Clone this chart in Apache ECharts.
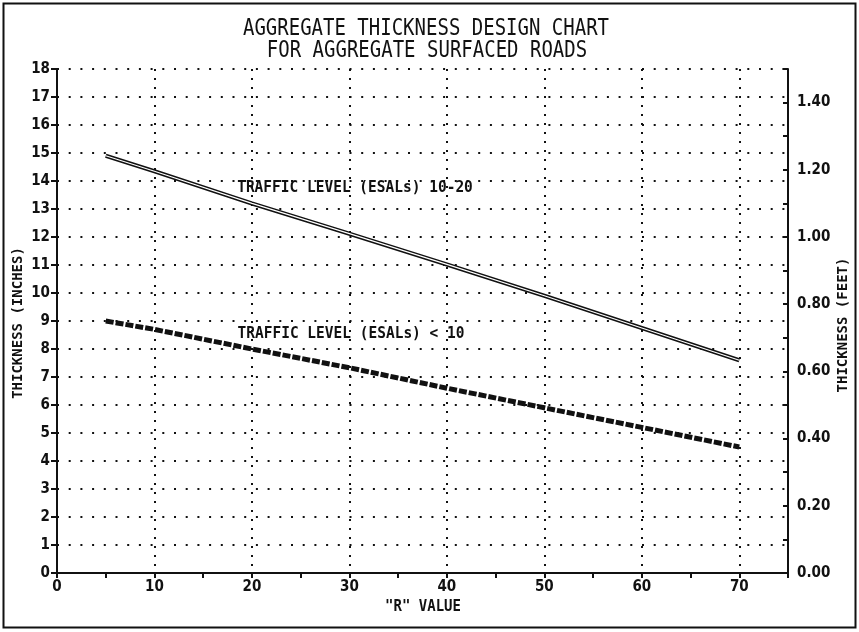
<!DOCTYPE html>
<html><head><meta charset="utf-8">
<script src="https://cdn.jsdelivr.net/npm/echarts@6/dist/echarts.min.js"></script>
<style>html,body{margin:0;padding:0;background:#fff}#c{width:859px;height:632px}</style>
</head><body><div id="c"></div>
<script>
const rValues = [5, 10, 20, 30, 40, 50, 60, 70];
const thickHigh = [14.9, 14.35, 13.2, 12.12, 11.02, 9.9, 8.75, 7.6];   // ESALs 10-20
const thickLow  = [9.0, 8.7, 8.0, 7.33, 6.6, 5.9, 5.2, 4.5];          // ESALs < 10
const titleLines = ['AGGREGATE THICKNESS DESIGN CHART', 'FOR AGGREGATE SURFACED ROADS'];
const labelHigh = 'TRAFFIC LEVEL (ESALs) 10-20';
const labelLow = 'TRAFFIC LEVEL (ESALs) < 10';
const xName = '"R" VALUE';
const yLeftName = 'THICKNESS (INCHES)';
const yRightName = 'THICKNESS (FEET)';

const hiData = rValues.map((r, i) => [r, thickHigh[i]]);
const loData = rValues.map((r, i) => [r, thickLow[i]]);

const MONO = '"DejaVu Sans Mono", monospace';
const COND = '"DejaVu Sans Condensed", "DejaVu Sans", sans-serif';

function txt(text, x, y, size, weight, sy, rot) {
  return {
    type: 'text', x: x, y: y, scaleY: sy || 1, rotation: rot || 0, z: 100,
    style: {
      text: text, fill: '#111', fontFamily: MONO, fontSize: size, fontWeight: weight,
      align: 'center', verticalAlign: 'middle', textAlign: 'center', textVerticalAlign: 'middle'
    }
  };
}

const chart = echarts.init(document.getElementById('c'), null, {renderer: 'canvas'});
chart.setOption({
  backgroundColor: '#fff',
  animation: false,
  grid: {left: 57, top: 69, width: 731, height: 504, containLabel: false},
  xAxis: [{
    type: 'value', min: 0, max: 75, interval: 5,
    axisLine: {show: true, onZero: false, lineStyle: {color: '#111', width: 2}},
    axisTick: {show: true, length: 5, lineStyle: {color: '#111', width: 2}},
    axisLabel: {
      margin: 7, color: '#111', fontFamily: COND, fontWeight: 'bold', fontSize: 15,
      formatter: v => (v % 10 === 0 && v < 75) ? String(v) : ''
    },
    splitLine: {show: false}
  }, {
    type: 'value', min: 0, max: 75, interval: 10, position: 'top',
    axisLine: {show: false}, axisTick: {show: false}, axisLabel: {show: false},
    splitLine: {show: true, lineStyle: {color: '#111', width: 2, type: [2, 7]}}
  }],
  yAxis: [{
    type: 'value', min: 0, max: 18, interval: 1, position: 'left',
    axisLine: {show: true, onZero: false, lineStyle: {color: '#111', width: 2}},
    axisTick: {show: true, length: 6, lineStyle: {color: '#111', width: 2}},
    axisLabel: {margin: 7, color: '#111', fontFamily: COND, fontWeight: 'bold', fontSize: 15},
    splitLine: {show: true, lineStyle: {color: '#111', width: 2, type: [2, 9.7]}}
  }, {
    type: 'value', min: 0, max: 1.5, interval: 0.1, position: 'right',
    axisLine: {show: true, onZero: false, lineStyle: {color: '#111', width: 2}},
    axisTick: {show: true, inside: true, length: 5, lineStyle: {color: '#111', width: 2}},
    axisLabel: {
      margin: 9, color: '#111', fontFamily: COND, fontWeight: 'bold', fontSize: 15,
      formatter: v => { const r = Math.round(v * 100); return (r % 20 === 0 && r < 150) ? (r / 100).toFixed(2) : ''; }
    },
    splitLine: {show: false}
  }],
  series: [
    {type: 'line', xAxisIndex: 0, yAxisIndex: 0, data: hiData, symbol: 'none', silent: true,
     lineStyle: {color: '#111', width: 4.2}, z: 5},
    {type: 'line', xAxisIndex: 0, yAxisIndex: 0, data: hiData, symbol: 'none', silent: true,
     lineStyle: {color: '#fff', width: 1.2}, z: 6},
    {type: 'line', xAxisIndex: 0, yAxisIndex: 0, data: loData, symbol: 'none', silent: true,
     lineStyle: {color: '#111', width: 5, type: [8, 2]}, z: 5}
  ],
  graphic: [
    {type: 'rect', shape: {x: 3.5, y: 3.5, width: 852, height: 624}, style: {fill: 'none', stroke: '#111', lineWidth: 2}, z: 100},
    txt(titleLines[0], 426, 29, 19, 'normal', 1.22),
    txt(titleLines[1], 427, 51, 19, 'normal', 1.22),
    txt(labelHigh, 355, 188, 14.5, 'bold', 1.05),
    txt(labelLow, 351, 334, 14.5, 'bold', 1.05),
    txt(xName, 423, 607, 14, 'bold', 1.1),
    txt(yLeftName, 18, 323, 14, 'bold', 1, Math.PI / 2),
    txt(yRightName, 843, 325, 14, 'bold', 1, Math.PI / 2)
  ]
});
</script>
</body></html>
